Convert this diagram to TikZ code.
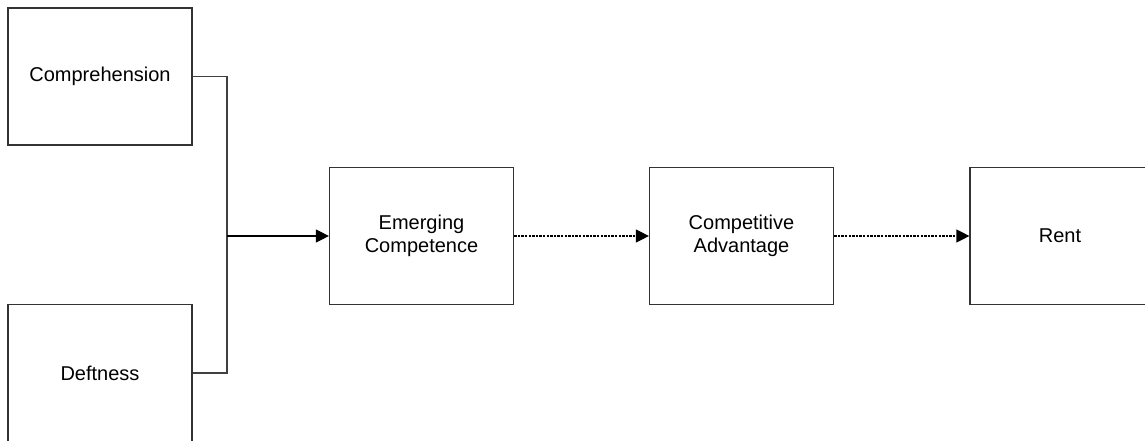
\documentclass[tikz,border=0pt]{standalone}
\usepackage{fontspec}
\setmainfont{Liberation Sans}
\usetikzlibrary{arrows.meta}

\begin{document}
\begin{tikzpicture}[x=0.5pt,y=-0.5pt,
    factor/.style={draw=black!80,line width=0.6pt,fill=white,minimum width=92pt,minimum height=68.5pt,
                   align=center,inner sep=0pt,font=\fontsize{10}{11.5}\selectfont},
    link/.style={draw=black!75,line width=0.6pt},
    tip/.style={-{Triangle[length=6.5pt,width=6.5pt]}}]
  \useasboundingbox (0,0) rectangle (1145,440);
  \clip (0,0) rectangle (1145,440);
  % the two inputs on the left
  \node [factor] (comp) at (100,76.5) {Comprehension};
  \node [factor] (deft) at (100,373) {Deftness};
  % the chain
  \node [factor] (emerge) at (421.5,236) {Emerging\\Competence};
  \node [factor] (advant) at (741.5,236) {Competitive\\Advantage};
  \node [factor,minimum width=95pt] (rent) at (1065,236) {\hspace{-5pt}Rent};
  \coordinate (join) at (227,236);
  \draw [link] (comp.east) -| (join) |- (deft.east);
  \draw [link,black,tip] (join) -- (emerge.west);
  \draw [link,black,tip,dash pattern=on 1.2pt off 0.6pt] (emerge.east) -- (advant.west);
  \draw [link,black,tip,dash pattern=on 1.2pt off 0.6pt] (advant.east) -- (rent.west);
\end{tikzpicture}
\end{document}
